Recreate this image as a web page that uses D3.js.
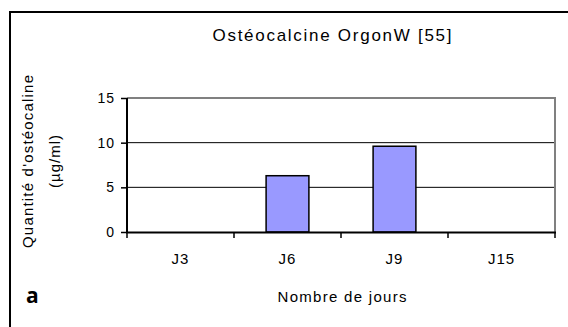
<!DOCTYPE html>
<html>
<head>
<meta charset="utf-8">
<script src="https://d3js.org/d3.v7.min.js"></script>
<style>
  html, body { margin: 0; padding: 0; background: #fff; }
  svg { display: block; }
  text { font-family: "Liberation Sans", Arial, sans-serif; fill: #000; }
</style>
</head>
<body>
<svg id="chart" width="568" height="327"></svg>
<script>
// Osteocalcin quantity per day of culture
const categories = ["J3", "J6", "J9", "J15"];
const values = [0, 6.3, 9.6, 0];
const yTicks = [0, 5, 10, 15];
const title = "Ostéocalcine OrgonW [55]";
const xTitle = "Nombre de jours";
const yTitleLines = ["Quantité d'ostéocaline", "(µg/ml)"];
const panelLabel = "a";

const svg = d3.select("#chart");
const W = 568, H = 327;

// figure frame (top and left edges)
svg.append("line").attr("x1", 9).attr("x2", W).attr("y1", 12).attr("y2", 12)
  .attr("stroke", "#000").attr("stroke-width", 2);
svg.append("line").attr("x1", 10).attr("x2", 10).attr("y1", 11).attr("y2", H)
  .attr("stroke", "#000").attr("stroke-width", 2);

const plot = { left: 127, right: 555, top: 98, bottom: 232 };

const y = d3.scaleLinear().domain([0, 15]).range([plot.bottom, plot.top]);
const xBand = d3.scaleBand().domain(categories).range([plot.left, plot.right]).padding(0);
const xBar = d3.scaleBand().domain(categories).range([plot.left, plot.right])
  .paddingInner(0.6).paddingOuter(0.3);

// horizontal gridlines
svg.append("g").selectAll("line")
  .data(yTicks.filter(t => t > 0 && t < 15))
  .join("line")
  .attr("x1", plot.left).attr("x2", plot.right)
  .attr("y1", d => y(d)).attr("y2", d => y(d))
  .attr("stroke", "#000").attr("stroke-width", 1);

// plot area border (top and right, grey)
svg.append("path")
  .attr("d", `M${plot.left},${y(15)}H${plot.right}V${plot.bottom}`)
  .attr("fill", "none").attr("stroke", "#808080").attr("stroke-width", 2);

// bars
svg.append("g").selectAll("rect")
  .data(categories.map((c, i) => ({ c, v: values[i] })).filter(d => d.v > 0))
  .join("rect")
  .attr("x", d => xBar(d.c))
  .attr("width", xBar.bandwidth())
  .attr("y", d => y(d.v))
  .attr("height", d => y(0) - y(d.v))
  .attr("fill", "#9999FF")
  .attr("stroke", "#000").attr("stroke-width", 1.5);

// y axis
const yAxis = svg.append("g")
  .attr("transform", `translate(${plot.left},0)`)
  .call(d3.axisLeft(y).tickValues(yTicks).tickSize(6).tickPadding(6).tickFormat(d3.format("d")));
yAxis.select(".domain").attr("stroke", "#000").attr("stroke-width", 2)
  .attr("d", `M0,${plot.top}V${plot.bottom + 1}`);
yAxis.selectAll(".tick line").attr("stroke", "#000").attr("stroke-width", 1.5);
yAxis.selectAll(".tick text").style("font-size", "14px")
  .style("font-family", "'Liberation Sans', Arial, sans-serif").attr("fill", "#000")
  .attr("letter-spacing", "1px");

// x axis: ticks at category boundaries, labels at band centres
const boundaries = categories.map(c => xBand(c)).concat([plot.right]);
const xg = svg.append("g");
xg.append("line").attr("x1", plot.left - 1).attr("x2", plot.right + 1)
  .attr("y1", plot.bottom + 0.5).attr("y2", plot.bottom + 0.5)
  .attr("stroke", "#000").attr("stroke-width", 2);
xg.selectAll("line.tk").data(boundaries).join("line").attr("class", "tk")
  .attr("x1", d => d).attr("x2", d => d)
  .attr("y1", plot.bottom).attr("y2", plot.bottom + 6)
  .attr("stroke", "#000").attr("stroke-width", 1.5);
xg.selectAll("text").data(categories).join("text")
  .attr("x", d => xBand(d) + xBand.bandwidth() / 2)
  .attr("y", 264)
  .attr("text-anchor", "middle")
  .attr("letter-spacing", "1px")
  .style("font-size", "15px")
  .text(d => d);

// title
svg.append("text")
  .attr("x", 332).attr("y", 41)
  .attr("text-anchor", "middle")
  .attr("textLength", 239).attr("lengthAdjust", "spacing")
  .style("font-size", "17px")
  .text(title);

// x axis title
svg.append("text")
  .attr("x", 342).attr("y", 302)
  .attr("text-anchor", "middle")
  .attr("textLength", 129).attr("lengthAdjust", "spacing")
  .style("font-size", "15px")
  .text(xTitle);

// y axis title (two rotated lines)
const yLens = [173, 53];
const yXs = [33, 60];
yTitleLines.forEach((t, i) => {
  svg.append("text")
    .attr("transform", `translate(${yXs[i]},161.5) rotate(-90)`)
    .attr("text-anchor", "middle")
    .attr("textLength", yLens[i]).attr("lengthAdjust", "spacing")
    .style("font-size", "15px")
    .text(t);
});

// panel letter
svg.append("text")
  .attr("x", 26).attr("y", 303)
  .style("font-family", "'Open Sans', 'Liberation Sans', sans-serif")
  .style("font-weight", "bold")
  .style("font-size", "21px")
  .text(panelLabel);
</script>
</body>
</html>
